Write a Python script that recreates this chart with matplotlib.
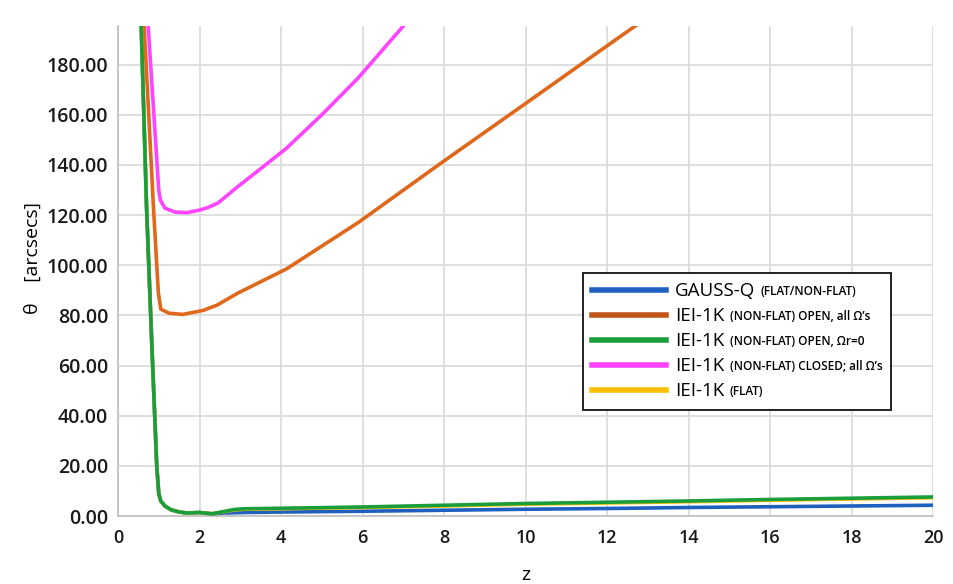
import matplotlib
matplotlib.use('Agg')
import matplotlib.pyplot as plt

plt.rcParams['font.family'] = ['Open Sans', 'DejaVu Sans']

# --- data (z, theta in arcsec) ---
z_orange = [0.60, 0.64, 0.74, 0.87, 0.99, 1.05, 1.25, 1.59, 2.09, 2.43, 2.94, 4.13, 5.9, 8.0, 10.0, 12.0, 12.69, 13.2]
th_orange = [210.0, 195.4, 164.5, 123.0, 89.0, 82.5, 80.9, 80.4, 82.0, 84.1, 88.9, 98.5, 117.1, 141.6, 164.5, 187.5, 195.4, 201.0]

z_pink = [0.70, 0.74, 1.00, 1.04, 1.15, 1.40, 1.70, 2.00, 2.20, 2.45, 2.95, 3.50, 4.13, 5.00, 5.90, 7.00, 7.30]
th_pink = [210.0, 195.4, 130.0, 126.0, 122.8, 121.2, 121.0, 122.0, 123.0, 124.8, 131.5, 138.5, 146.6, 160.0, 174.8, 195.4, 201.0]

z_low = [0.52, 0.57, 0.70, 0.83, 0.95, 1.00, 1.05, 1.15, 1.30, 1.50, 1.70, 2.00, 2.30,
         2.60, 2.85, 3.10, 4.0, 6.0, 8.0, 10.0, 12.0, 14.0, 16.0, 18.0, 20.0]
th_green = [205.0, 195.4, 123.4, 68.3, 20.2, 9.0, 6.0, 4.0, 2.5, 1.6, 1.2, 1.4, 0.9,
            1.8, 2.6, 2.9, 3.1, 3.6, 4.3, 5.0, 5.5, 6.0, 6.6, 7.1, 7.6]
th_yellow = [205.0, 195.4, 123.4, 68.3, 20.2, 9.0, 6.0, 4.0, 2.5, 1.6, 1.2, 1.4, 0.9,
             1.7, 2.4, 2.7, 2.9, 3.4, 4.0, 4.7, 5.2, 5.7, 6.3, 6.8, 7.3]
th_blue = [205.0, 195.4, 123.4, 68.3, 20.2, 9.0, 6.0, 4.0, 2.5, 1.6, 1.2, 1.4, 0.9,
           1.2, 1.3, 1.4, 1.6, 1.9, 2.3, 2.7, 3.0, 3.4, 3.7, 4.0, 4.3]

labels_main = ['GAUSS-Q', 'IEI-1K', 'IEI-1K', 'IEI-1K', 'IEI-1K']
labels_small = ['(FLAT/NON-FLAT)', '(NON-FLAT) OPEN, all Ω’s', '(NON-FLAT) OPEN, Ωr=0',
                '(NON-FLAT) CLOSED; all Ω’s', '(FLAT)']
colors = ['#1f5fbf', '#e0681c', '#1a9e3c', '#ff44ff', '#ffbf00']
legend_colors = ['#1f5fbf', '#c0561a', '#1a9e3c', '#ff44ff', '#ffbf00']

fig = plt.figure(figsize=(9.54, 5.84), dpi=100)
ax = fig.add_axes([0.1237, 0.1164, 0.8543, 0.8394])

lw = 2.6
ax.plot(z_low, th_blue, color=colors[0], lw=lw, zorder=3)
ax.plot(z_orange, th_orange, color=colors[1], lw=lw, zorder=3)
ax.plot(z_low, th_yellow, color=colors[4], lw=lw, zorder=3)
ax.plot(z_low, th_green, color=colors[2], lw=lw, zorder=4)
ax.plot(z_pink, th_pink, color=colors[3], lw=lw, zorder=3)

ax.set_xlim(0, 20)
ax.set_ylim(0, 195.5)
ax.set_xticks(range(0, 21, 2))
ax.set_yticks(range(0, 181, 20))
ax.set_yticklabels(['%.2f' % v for v in range(0, 181, 20)])
ax.grid(True, color='#d9d9d9', lw=1.2)
ax.set_axisbelow(True)
for s in ['top', 'right']:
    ax.spines[s].set_visible(False)
for s in ['left', 'bottom']:
    ax.spines[s].set_color('#bfbfbf')
    ax.spines[s].set_linewidth(1.2)
ax.tick_params(length=0, colors='#1a1a1a')
ax.tick_params(axis='y', pad=7, labelsize=14)
ax.tick_params(axis='x', pad=9, labelsize=13)
for t in ax.get_xticklabels() + ax.get_yticklabels():
    t.set_fontweight('semibold')

ax.set_ylabel('θ    [arcsecs]', fontsize=14)
ax.yaxis.set_label_coords(-0.094, 0.526)
ax.set_xlabel('z', fontsize=14, labelpad=14)

handles = [plt.Line2D([], [], color=c, lw=4) for c in legend_colors]
leg = ax.legend(handles, labels_main, loc='upper left', mode='expand',
                bbox_to_anchor=(0.5706, 0.2224, 0.378, 0.2733), borderaxespad=0,
                fontsize=13.5, handlelength=3.9, handletextpad=0.5,
                labelspacing=0.37, borderpad=0.5, fancybox=False,
                framealpha=1, edgecolor='#222222')
leg.get_frame().set_linewidth(1.4)
for txt, small in zip(leg.get_texts(), labels_small):
    ax.annotate(small, xy=(1, 0.14), xycoords=txt, xytext=(4, 0),
                textcoords='offset points', fontsize=8.5, fontweight='semibold',
                va='bottom', ha='left', zorder=10)

fig.savefig('out.png', dpi=100)
